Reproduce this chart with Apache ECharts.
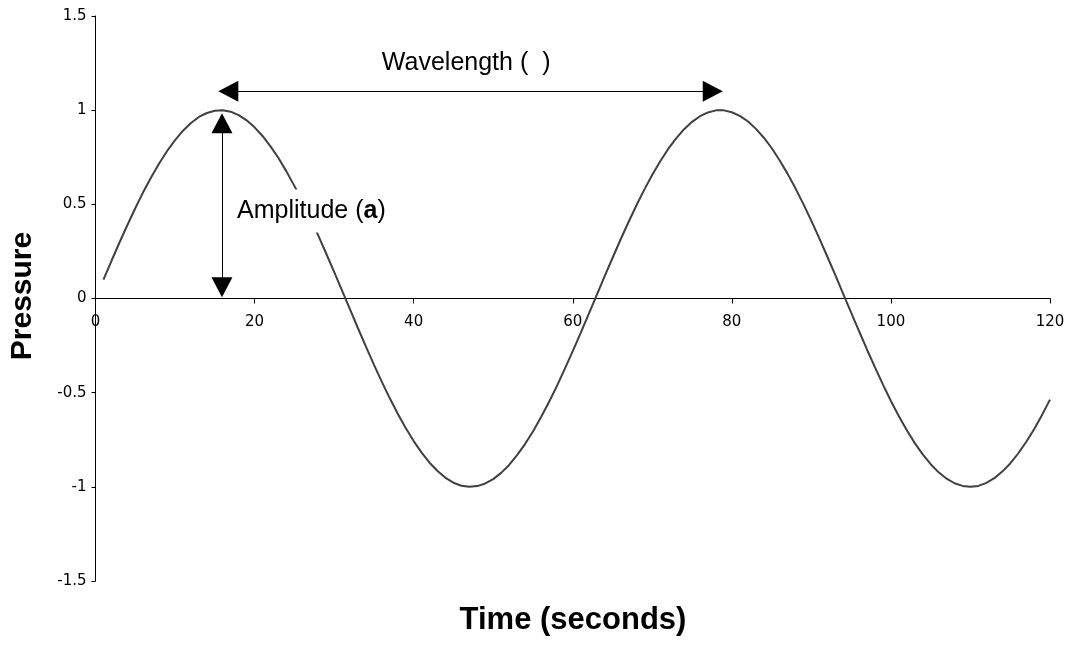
<!DOCTYPE html>
<html>
<head>
<meta charset="utf-8">
<script src="https://cdn.jsdelivr.net/npm/echarts@6/dist/echarts.min.js"></script>
<style>html,body{margin:0;padding:0;background:#fff}#c{width:1077px;height:645px}</style>
</head>
<body>
<div id="c"></div>
<script>
const times = [1,2,3,4,5,6,7,8,9,10,11,12,13,14,15,16,17,18,19,20,21,22,23,24,25,26,27,28,29,30,
31,32,33,34,35,36,37,38,39,40,41,42,43,44,45,46,47,48,49,50,51,52,53,54,55,56,57,58,59,60,
61,62,63,64,65,66,67,68,69,70,71,72,73,74,75,76,77,78,79,80,81,82,83,84,85,86,87,88,89,90,
91,92,93,94,95,96,97,98,99,100,101,102,103,104,105,106,107,108,109,110,111,112,113,114,115,116,117,118,119,120];
const pressure = [0.100,0.199,0.296,0.389,0.479,0.565,0.644,0.717,0.783,0.841,0.891,0.932,0.964,0.985,0.997,1.000,0.992,0.974,0.946,0.909,
0.863,0.808,0.746,0.675,0.598,0.516,0.427,0.335,0.239,0.141,0.042,-0.058,-0.158,-0.256,-0.351,-0.443,-0.530,-0.612,-0.688,-0.757,
-0.818,-0.872,-0.916,-0.952,-0.978,-0.994,-1.000,-0.996,-0.982,-0.959,-0.926,-0.884,-0.832,-0.773,-0.706,-0.631,-0.551,-0.465,-0.374,-0.279,
-0.182,-0.083,0.017,0.117,0.215,0.312,0.405,0.494,0.578,0.657,0.729,0.794,0.850,0.899,0.938,0.968,0.988,0.999,0.999,0.989,
0.970,0.941,0.902,0.855,0.799,0.734,0.663,0.585,0.501,0.412,0.319,0.223,0.125,0.025,-0.075,-0.174,-0.272,-0.366,-0.457,-0.544,
-0.625,-0.700,-0.768,-0.828,-0.880,-0.923,-0.957,-0.981,-0.995,-1.000,-0.995,-0.979,-0.954,-0.919,-0.876,-0.823,-0.762,-0.694,-0.618,-0.537];

const xTitle = 'Time (seconds)';
const yTitle = 'Pressure';
const wavelengthLabel = 'Wavelength (  )';
const wavelengthArrow = { x1: 16.7, x2: 77.6, y: 1.1 };
const wavelengthText = { x: 46.6, y: 1.248 };
const amplitudeArrow = { x: 15.9, y1: 0.06, y2: 0.93 };
const amplitudeText = { x: 17.8, y: 0.465 };

const seriesData = times.map((t, i) => [t, pressure[i]]);

const GRID_TOP = 16, GRID_BOTTOM = 64, H = 645;
const gridH = H - GRID_TOP - GRID_BOTTOM;

const chart = echarts.init(document.getElementById('c'));
chart.setOption({
  animation: false,
  backgroundColor: '#ffffff',
  grid: { left: 95.5, right: 27, top: GRID_TOP, bottom: GRID_BOTTOM, containLabel: false, outerBoundsMode: 'none' },
  xAxis: {
    type: 'value', min: 0, max: 120, interval: 20,
    offset: -gridH / 2,
    axisLine: { show: true, onZero: false, lineStyle: { color: '#000', width: 1 } },
    axisTick: { show: true, length: 5, lineStyle: { color: '#000' } },
    axisLabel: { fontFamily: 'DejaVu Sans', fontSize: 15, color: '#000', margin: 16 },
    splitLine: { show: false }
  },
  yAxis: {
    type: 'value', min: -1.5, max: 1.5, interval: 0.5,
    axisLine: { show: true, lineStyle: { color: '#000', width: 1 } },
    axisTick: { show: true, length: 4, lineStyle: { color: '#000' } },
    axisLabel: { fontFamily: 'DejaVu Sans', fontSize: 15, color: '#000', margin: 9 },
    splitLine: { show: false }
  },
  graphic: [
    { type: 'text', x: 573, y: 605,
      style: { text: xTitle, font: 'bold 31px "Liberation Sans", Arial', fill: '#000', align: 'center', verticalAlign: 'top' } },
    { type: 'text', x: 8, y: 296, rotation: Math.PI / 2,
      style: { text: yTitle, font: 'bold 30px "Liberation Sans", Arial', fill: '#000', align: 'center', verticalAlign: 'top' } }
  ],
  series: [{
    type: 'line',
    data: seriesData,
    showSymbol: false,
    symbol: 'none',
    lineStyle: { color: '#404040', width: 2 },
    itemStyle: { color: '#404040' },
    z: 2,
    silent: true,
    markLine: {
      silent: true,
      z: 5,
      symbol: ['triangle', 'triangle'],
      symbolSize: [21, 20],
      lineStyle: { color: '#000', width: 1, type: 'solid' },
      itemStyle: { color: '#000' },
      label: { show: false },
      emphasis: { disabled: true },
      data: [
        [{ coord: [wavelengthArrow.x1, wavelengthArrow.y] }, { coord: [wavelengthArrow.x2, wavelengthArrow.y] }],
        [{ coord: [amplitudeArrow.x, amplitudeArrow.y1] }, { coord: [amplitudeArrow.x, amplitudeArrow.y2] }]
      ]
    },
    markPoint: {
      silent: true,
      z: 6,
      symbol: 'circle',
      symbolSize: 0,
      data: [
        { coord: [wavelengthText.x, wavelengthText.y],
          label: { show: true, position: 'inside', formatter: wavelengthLabel,
            fontFamily: '"Liberation Sans", Arial', fontSize: 25, color: '#000' } },
        { coord: [amplitudeText.x, amplitudeText.y],
          label: { show: true, position: 'right', distance: 0,
            formatter: '{n|Amplitude (}{b|a}{n|)}',
            backgroundColor: '#fff', padding: [9, 0, 9, 0],
            rich: {
              n: { fontFamily: '"Liberation Sans", Arial', fontSize: 25, color: '#000' },
              b: { fontFamily: '"Liberation Sans", Arial', fontSize: 25, fontWeight: 'bold', color: '#000' }
            } } }
      ]
    }
  }]
});
</script>
</body>
</html>
